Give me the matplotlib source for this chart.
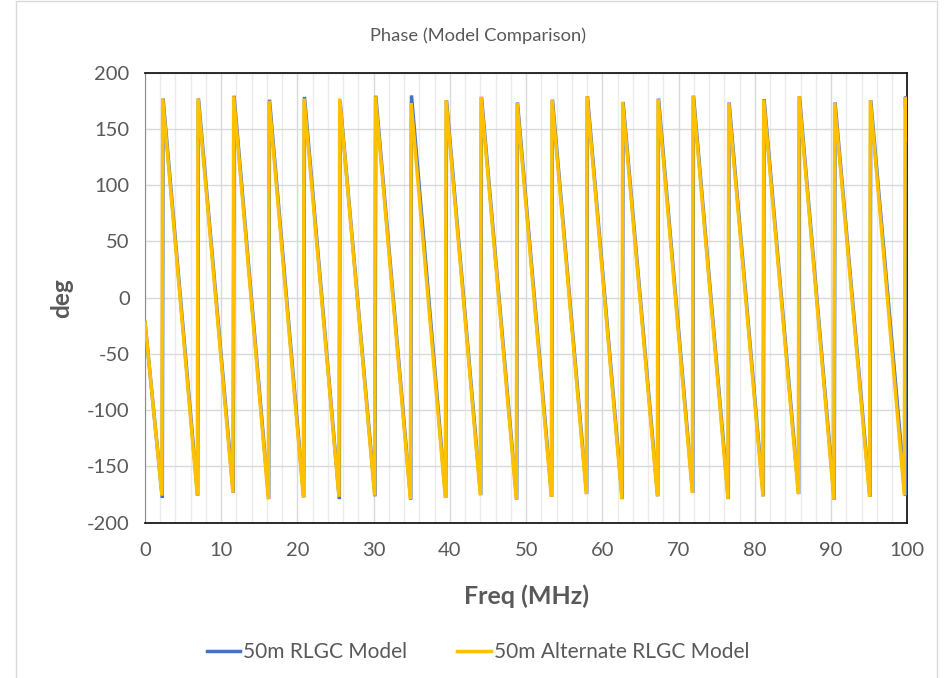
import matplotlib
matplotlib.use("Agg")
import matplotlib.pyplot as plt
from matplotlib.patches import Rectangle
from matplotlib.ticker import MultipleLocator

plt.rcParams['font.family'] = ['Lato', 'DejaVu Sans']
plt.rcParams['axes.unicode_minus'] = False

# vertices of the wrapped phase curves (freq in MHz, phase in deg)
freq_rlgc = [0.0,
             2.27, 2.37, 6.91, 7.01, 11.58, 11.68, 16.23, 16.33, 20.82, 20.92,
             25.49, 25.59, 30.17, 30.27, 34.86, 34.96, 39.45, 39.55, 44.04, 44.14,
             48.76, 48.86, 53.35, 53.45, 57.94, 58.04, 62.61, 62.71, 67.26, 67.36,
             71.85, 71.95, 76.52, 76.62, 81.11, 81.21, 85.75, 85.85, 90.42, 90.52,
             95.10, 95.20, 99.75, 99.85, 100.0]
deg_rlgc = [-22.0,
            -178.0, 177.0, -176.0, 177.0, -173.5, 179.5, -179.0, 176.0, -177.5, 178.5,
            -179.0, 175.0, -176.5, 179.5, -179.5, 179.8, -178.0, 175.5, -175.5, 178.5,
            -179.5, 173.5, -177.0, 176.0, -174.5, 179.0, -179.0, 174.0, -176.5, 177.0,
            -173.5, 179.5, -179.0, 173.5, -176.5, 176.5, -174.5, 179.0, -179.5, 173.5,
            -177.0, 175.5, -176.0, 179.0, 137.0]

freq_alt = [0.0,
            2.22, 2.32, 6.86, 6.96, 11.53, 11.63, 16.18, 16.28, 20.77, 20.87,
            25.44, 25.54, 30.12, 30.22, 34.81, 34.91, 39.40, 39.50, 43.99, 44.09,
            48.71, 48.81, 53.30, 53.40, 57.89, 57.99, 62.56, 62.66, 67.21, 67.31,
            71.80, 71.90, 76.47, 76.57, 81.06, 81.16, 85.70, 85.80, 90.37, 90.47,
            95.05, 95.15, 99.61, 99.71, 99.9, 100.0]
deg_alt = [-22.0,
           -176.0, 177.0, -176.0, 177.0, -173.5, 179.0, -179.0, 175.0, -177.5, 177.0,
           -177.0, 177.0, -176.0, 179.0, -179.0, 173.0, -178.0, 175.5, -175.5, 178.5,
           -179.5, 173.0, -177.0, 176.0, -174.5, 179.0, -179.0, 174.0, -176.5, 176.5,
           -173.5, 179.5, -179.0, 173.0, -176.5, 176.0, -174.5, 179.0, -179.5, 173.0,
           -177.0, 175.5, -175.5, 178.5, 151.0, 140.0]

series_names = ['50m RLGC Model', '50m Alternate RLGC Model']
series_colors = ['#4472c4', '#ffc000']

fig = plt.figure(figsize=(9.44, 6.78), dpi=100)
fig.patches.append(Rectangle((16 / 944, -0.01), (937 - 16) / 944, 1 - 1 / 678 + 0.01,
                             transform=fig.transFigure, fill=False,
                             edgecolor='#d9d9d9', linewidth=1))

ax = fig.add_axes([145 / 944, 1 - 522.7 / 678, (907.3 - 145) / 944, (522.7 - 72.7) / 678])

ax.plot(freq_rlgc, deg_rlgc, color=series_colors[0], lw=2.5, label=series_names[0],
        solid_joinstyle='miter', zorder=3)
ax.plot(freq_alt, deg_alt, color=series_colors[1], lw=2.5, label=series_names[1],
        solid_joinstyle='miter', zorder=4)

ax.set_xlim(0, 100)
ax.set_ylim(-200, 200)
ax.xaxis.set_major_locator(MultipleLocator(10))
ax.xaxis.set_minor_locator(MultipleLocator(2))
ax.yaxis.set_major_locator(MultipleLocator(50))
ax.grid(axis='y', which='major', color='#d9d9d9', lw=1)
ax.grid(axis='x', which='major', color='#d9d9d9', lw=1)
ax.grid(axis='x', which='minor', color='#ebebeb', lw=1)
ax.set_axisbelow(True)

ax.tick_params(axis='both', which='both', length=0, labelsize=14.5, labelcolor='#595959')
ax.tick_params(axis='x', pad=14)
ax.tick_params(axis='y', pad=11)

for s in ['top', 'right', 'bottom']:
    ax.spines[s].set_color('#1a1a1a')
    ax.spines[s].set_linewidth(1.3)
ax.spines['left'].set_color('#8c8c8c')
ax.spines['left'].set_linewidth(0.8)

fig.text(478 / 944, 1 - 36 / 678, 'Phase (Model Comparison)', fontsize=13.2,
         color='#595959', ha='center', va='center')
ax.set_xlabel('Freq (MHz)', fontsize=18, fontweight='bold', color='#595959', labelpad=18)
ax.set_ylabel('deg', fontsize=17.5, fontweight='bold', color='#595959', labelpad=10)

fig.legend(loc='center', bbox_to_anchor=(478 / 944, 1 - 652 / 678), ncol=2, frameon=False,
           fontsize=15, labelcolor='#595959', handlelength=1.6, handletextpad=0.15,
           columnspacing=2.4)

fig.savefig('out.png', dpi=100)
